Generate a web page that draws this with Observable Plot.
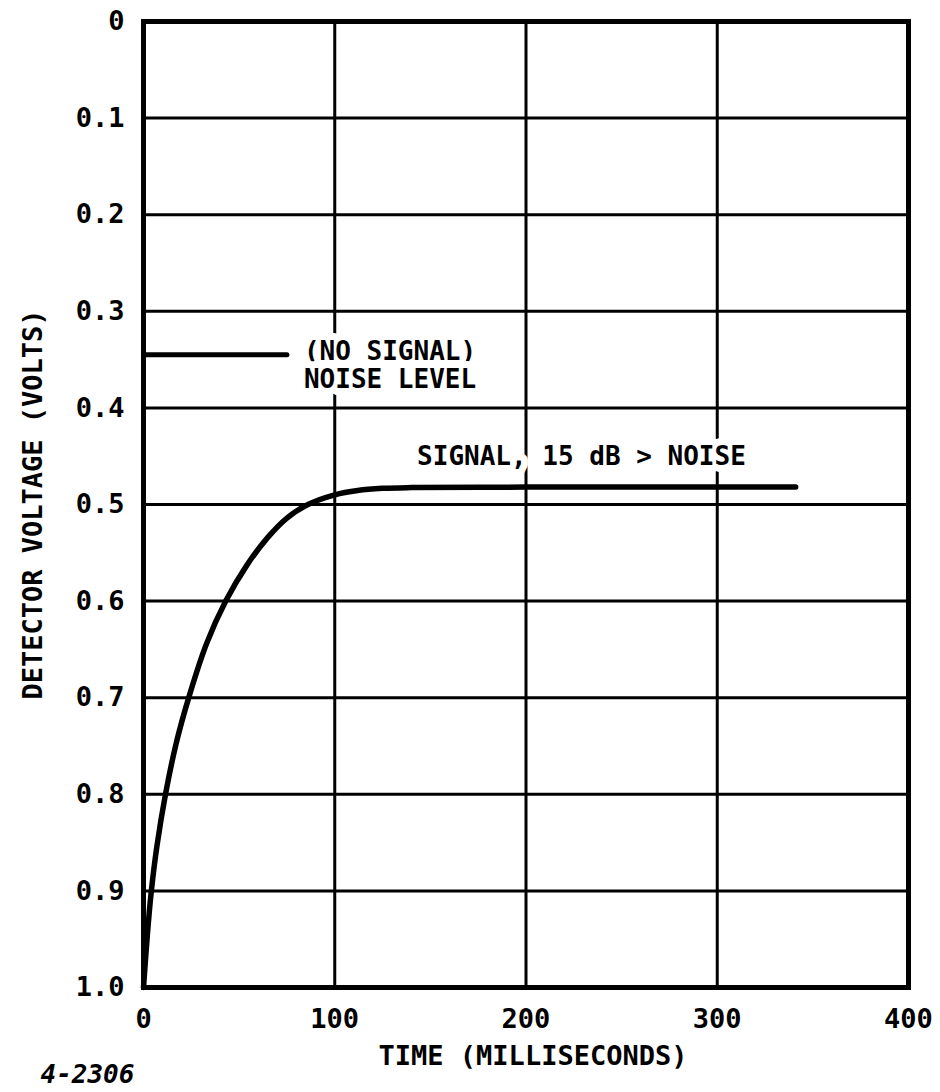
<!DOCTYPE html>
<html>
<head>
<meta charset="utf-8">
<script src="https://cdn.jsdelivr.net/npm/d3@7"></script>
<script src="https://cdn.jsdelivr.net/npm/@observablehq/plot@0.6"></script>
<style>
  html, body { margin: 0; padding: 0; background: #fff; }
  #chart svg { display: block; }
</style>
</head>
<body>
<div id="chart"></div>
<script>
// Detector output after the signal is switched on (time in ms, voltage in V)
const signalTime  = [0, 2, 4, 7, 11.5, 17, 23.5, 33, 43, 54, 65, 75, 86, 100, 112, 125, 140, 200, 250, 300, 341];
const signalVolts = [1.0, 0.946, 0.902, 0.854, 0.800, 0.748, 0.701, 0.644, 0.600, 0.563, 0.534, 0.514, 0.500, 0.490, 0.4855, 0.4833, 0.4825, 0.482, 0.482, 0.482, 0.482];

// Detector level with no signal present
const noiseTime  = [0, 75];
const noiseVolts = [0.345, 0.345];

// Axis ticks
const xTicks = [0, 100, 200, 300, 400];
const yTicks = [0, 0.1, 0.2, 0.3, 0.4, 0.5, 0.6, 0.7, 0.8, 0.9, 1.0];
const yTickLabels = ["0", "0.1", "0.2", "0.3", "0.4", "0.5", "0.6", "0.7", "0.8", "0.9", "1.0"];

// Text
const xTitle = "TIME (MILLISECONDS)";
const yTitle = "DETECTOR VOLTAGE (VOLTS)";
const figureNumber = "4-2306";
const noiseLabel = "(NO SIGNAL)\nNOISE LEVEL";
const signalLabel = "SIGNAL, 15 dB > NOISE";
const signalLabelTime = 229;

const signal = signalTime.map((t, i) => ({t, v: signalVolts[i]}));
const noise = noiseTime.map((t, i) => ({t, v: noiseVolts[i]}));

const font = "'DejaVu Sans Mono', monospace";

const chart = Plot.plot({
  width: 940,
  height: 1092,
  marginLeft: 143,
  marginRight: 32,
  marginTop: 21,
  marginBottom: 105,
  x: {domain: [0, 400]},
  y: {domain: [0, 1], reverse: true},
  style: {fontFamily: font, fontSize: "27px", fontWeight: "bold", color: "black", background: "white"},
  marks: [
    // grid
    Plot.ruleX(xTicks.slice(1, -1), {stroke: "black", strokeWidth: 3}),
    Plot.ruleY(yTicks.slice(1, -1), {stroke: "black", strokeWidth: 3}),
    // annotations (white halo breaks the grid behind the lettering)
    Plot.text([noiseLabel], {
      x: noiseTime[1], y: noiseVolts[1], dx: 17, dy: 10,
      textAnchor: "start", lineAnchor: "middle", lineHeight: 1.08,
      fontSize: 26, fontWeight: "bold", fontFamily: font,
      fill: "black", stroke: "white", strokeWidth: 14
    }),
    Plot.text([signalLabel], {
      x: signalLabelTime, y: signalVolts[signalVolts.length - 1], dy: -30,
      textAnchor: "middle", lineAnchor: "middle",
      fontSize: 26, fontWeight: "bold", fontFamily: font,
      fill: "black", stroke: "white", strokeWidth: 14
    }),
    // curves
    Plot.line(noise, {x: "t", y: "v", stroke: "black", strokeWidth: 5, strokeLinecap: "round"}),
    Plot.line(signal, {x: "t", y: "v", stroke: "black", strokeWidth: 5.5, curve: "catmull-rom", strokeLinecap: "round"}),
    // frame and axes
    Plot.frame({stroke: "black", strokeWidth: 5}),
    Plot.axisX({ticks: xTicks, tickSize: 0, tickPadding: 21, tickFormat: d => String(d), label: null, fontSize: 27, fontWeight: "bold"}),
    Plot.axisY({ticks: yTicks, tickSize: 0, tickPadding: 19, tickFormat: d => yTickLabels[yTicks.indexOf(d)], label: null, fontSize: 27, fontWeight: "bold"}),
    // titles
    Plot.text([xTitle], {frameAnchor: "bottom", dx: 7, dy: 69, textAnchor: "middle", lineAnchor: "middle", fontSize: 27, fontWeight: "bold", fontFamily: font}),
    Plot.text([yTitle], {frameAnchor: "left", dx: -110, rotate: -90, textAnchor: "middle", lineAnchor: "middle", fontSize: 27, fontWeight: "bold", fontFamily: font}),
    Plot.text([figureNumber], {frameAnchor: "bottom-left", dx: -103, dy: 87, textAnchor: "start", lineAnchor: "middle", fontSize: 26, fontWeight: "bold", fontStyle: "italic", fontFamily: font})
  ]
});

document.getElementById("chart").appendChild(chart);
</script>
</body>
</html>
